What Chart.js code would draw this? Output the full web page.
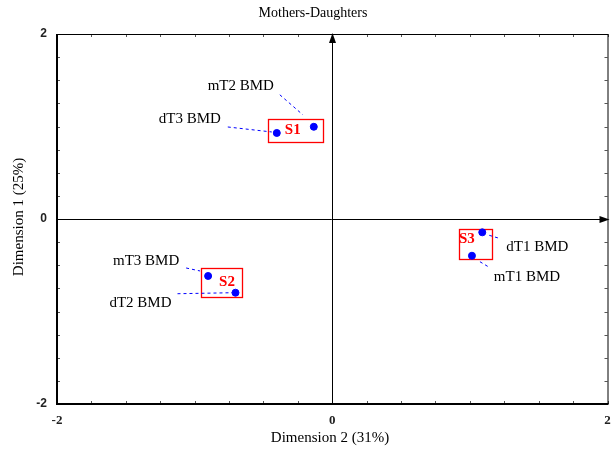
<!DOCTYPE html>
<html>
<head>
<meta charset="utf-8">
<script src="https://cdn.jsdelivr.net/npm/chart.js@4.4.1/dist/chart.umd.min.js"></script>
<style>
  html, body { margin: 0; padding: 0; background: #fff; }
  #wrap { width: 612px; height: 451px; }
</style>
</head>
<body>
<div id="wrap"><canvas id="mcaChart" width="612" height="451"></canvas></div>
<script>
// variables and their coordinates on the two dimensions
const labels = ['dT3 BMD', 'mT2 BMD', 'mT3 BMD', 'dT2 BMD', 'dT1 BMD', 'mT1 BMD'];
const dim2 = [-0.403, -0.134, -0.902, -0.703, 1.090, 1.015];
const dim1 = [0.930, 0.997, -0.616, -0.797, -0.144, -0.397];
// cluster membership
const groups = ['S1', 'S1', 'S2', 'S2', 'S3', 'S3'];
const tickLabels = [-2, 0, 2];

const points = dim2.map((x, i) => ({ x: x, y: dim1[i] }));

// label text offset (px from point) and dashed leader [x1, y1, x2, y2]
const labelPos = [
    { dx: -87, dy: -14, lead: [-49, -6, -5, -1] },
    { dx: -73, dy: -41, lead: [-34, -32, -11, -12] },
    { dx: -62, dy: -15, lead: [-22, -8, -8, -5] },
    { dx: -95, dy: 10, lead: [-58, 1, -3, 0] },
    { dx: 55, dy: 15, lead: [7, 3, 17, 6] },
    { dx: 55, dy: 21, lead: [8, 6, 18, 12] }
];
// box padding (left, right, top, bottom) and group tag offset from the box's left/top
const groupStyle = {
    S1: { pad: [9, 9, 8, 9], tag: [25, 11] },
    S2: { pad: [7, 7, 8, 4], tag: [26, 14] },
    S3: { pad: [13, 10, 3, 4], tag: [8, 10] }
};

const serif = '"Liberation Serif", "Times New Roman", serif';

const decorPlugin = {
    id: 'decor',
    beforeDatasetsDraw(chart) {
        const { ctx, chartArea: a, scales: { x, y } } = chart;
        ctx.save();
        // minor ticks on all four sides
        ctx.strokeStyle = '#555';
        ctx.lineWidth = 1;
        x.ticks.forEach(t => {
            const px = Math.round(x.getPixelForValue(t.value)) + 0.5;
            ctx.beginPath();
            ctx.moveTo(px, a.bottom); ctx.lineTo(px, a.bottom - 3);
            ctx.moveTo(px, a.top); ctx.lineTo(px, a.top + 3);
            ctx.stroke();
        });
        y.ticks.forEach(t => {
            const py = Math.round(y.getPixelForValue(t.value)) + 0.5;
            ctx.beginPath();
            ctx.moveTo(a.left, py); ctx.lineTo(a.left + 3, py);
            ctx.moveTo(a.right, py); ctx.lineTo(a.right - 3, py);
            ctx.stroke();
        });
        // frame
        ctx.strokeStyle = '#000';
        ctx.lineWidth = 1;
        ctx.beginPath();
        ctx.moveTo(a.left, a.top + 0.5); ctx.lineTo(a.right + 0.5, a.top + 0.5);
        ctx.lineTo(a.right + 0.5, a.bottom);
        ctx.stroke();
        ctx.lineWidth = 2;
        ctx.beginPath();
        ctx.moveTo(a.left, a.top); ctx.lineTo(a.left, a.bottom); ctx.lineTo(a.right + 1, a.bottom);
        ctx.stroke();

        // central axes with arrows
        const x0 = Math.round(x.getPixelForValue(0)) + 0.5;
        const y0 = Math.round(y.getPixelForValue(0)) + 0.5;
        ctx.lineWidth = 1;
        ctx.beginPath();
        ctx.moveTo(x0, a.bottom); ctx.lineTo(x0, a.top + 4);
        ctx.moveTo(a.left, y0); ctx.lineTo(a.right - 2, y0);
        ctx.stroke();
        ctx.fillStyle = '#000';
        ctx.beginPath();
        ctx.moveTo(x0, a.top - 1); ctx.lineTo(x0 - 3.5, a.top + 9); ctx.lineTo(x0 + 3.5, a.top + 9);
        ctx.closePath(); ctx.fill();
        ctx.beginPath();
        ctx.moveTo(a.right + 2, y0); ctx.lineTo(a.right - 8, y0 - 3.5); ctx.lineTo(a.right - 8, y0 + 3.5);
        ctx.closePath(); ctx.fill();

        // cluster boxes
        Object.keys(groupStyle).forEach(g => {
            const idx = groups.map((v, i) => v === g ? i : -1).filter(i => i >= 0);
            const xs = idx.map(i => x.getPixelForValue(dim2[i]));
            const ys = idx.map(i => y.getPixelForValue(dim1[i]));
            const st = groupStyle[g];
            const l = Math.min(...xs) - st.pad[0], r = Math.max(...xs) + st.pad[1];
            const t = Math.min(...ys) - st.pad[2], b = Math.max(...ys) + st.pad[3];
            ctx.strokeStyle = '#ff0000';
            ctx.lineWidth = 1.3;
            ctx.strokeRect(Math.round(l) + 0.5, Math.round(t) + 0.5, Math.round(r - l), Math.round(b - t));
            ctx.fillStyle = '#ff0000';
            ctx.font = 'bold 15px ' + serif;
            ctx.textAlign = 'left';
            ctx.textBaseline = 'middle';
            ctx.fillText(g, l + st.tag[0] - 8, t + st.tag[1]);
        });

        // variable labels and dashed leaders
        ctx.font = '15px ' + serif;
        ctx.textAlign = 'center';
        ctx.textBaseline = 'middle';
        labels.forEach((lab, i) => {
            const px = x.getPixelForValue(dim2[i]);
            const py = y.getPixelForValue(dim1[i]);
            const p = labelPos[i];
            ctx.fillStyle = '#000';
            ctx.fillText(lab, px + p.dx, py + p.dy);
            ctx.strokeStyle = '#0000ff';
            ctx.lineWidth = 1;
            ctx.setLineDash([3, 3]);
            ctx.beginPath();
            ctx.moveTo(px + p.lead[0], py + p.lead[1]);
            ctx.lineTo(px + p.lead[2], py + p.lead[3]);
            ctx.stroke();
            ctx.setLineDash([]);
        });

        // titles
        ctx.fillStyle = '#000';
        ctx.font = '14px ' + serif;
        ctx.fillText('Mothers-Daughters', 313, 13);
        ctx.font = '15px ' + serif;
        ctx.fillText('Dimension 2 (31%)', 330, 438);
        ctx.translate(19, 217);
        ctx.rotate(-Math.PI / 2);
        ctx.fillText('Dimension 1 (25%)', 0, 0);
        ctx.restore();
    }
};

function majorOnly(v) {
    return tickLabels.some(t => Math.abs(t - v) < 1e-6) ? String(Math.round(v)) : '';
}

new Chart(document.getElementById('mcaChart').getContext('2d'), {
    type: 'scatter',
    data: {
        datasets: [{
            data: points,
            backgroundColor: '#0000ff',
            borderColor: '#0000ff',
            pointRadius: 3.5,
            pointHoverRadius: 3.5
        }]
    },
    options: {
        responsive: false,
        animation: false,
        layout: { padding: { top: 34, right: 4, left: 0, bottom: 0 } },
        plugins: { legend: { display: false }, tooltip: { enabled: false } },
        scales: {
            x: {
                type: 'linear',
                min: -2, max: 2,
                grid: { display: false },
                border: { display: false },
                ticks: {
                    stepSize: 0.25, autoSkip: false, maxRotation: 0, padding: 1,
                    color: '#222', font: { family: serif, size: 13, weight: 'bold' },
                    callback: majorOnly
                },
                afterFit(s) { s.height = 47; s.paddingLeft = 0; s.paddingRight = 0; }
            },
            y: {
                type: 'linear',
                min: -2, max: 2,
                grid: { display: false },
                border: { display: false },
                ticks: {
                    stepSize: 0.25, autoSkip: false, padding: 2,
                    color: '#222', font: { family: '"Liberation Sans", Arial, sans-serif', size: 12, weight: 'bold' },
                    callback: majorOnly
                },
                afterFit(s) { s.width = 57; s.paddingTop = 0; s.paddingBottom = 0; }
            }
        }
    },
    plugins: [decorPlugin]
});
</script>
</body>
</html>
